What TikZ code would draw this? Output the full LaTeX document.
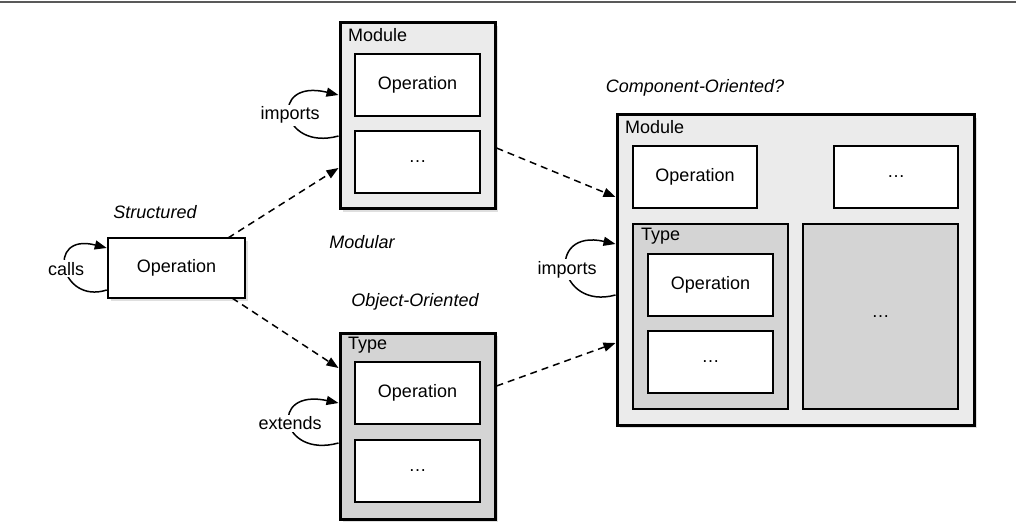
\documentclass[tikz,border=0pt]{standalone}
\usepackage{fontspec}
\setmainfont{Liberation Sans}
\usetikzlibrary{arrows.meta,shadows}
\begin{document}
\begin{tikzpicture}[x=1pt,y=-1pt,font=\fontsize{18}{20}\selectfont,
  boxouter/.style={draw,line width=3pt,fill=#1,drop shadow={shadow xshift=3pt,shadow yshift=-3pt,opacity=0.25}},
  boxinner/.style={draw,line width=1.8pt,fill=#1},
  lbl/.style={anchor=north west,inner sep=0pt},
  ttl/.style={font=\fontsize{18}{20}\selectfont\itshape},
  selfarrow/.style={line width=1.5pt,-{Triangle[length=12pt,width=9pt]}},
  dasharrow/.style={line width=1.5pt,dash pattern=on 7pt off 5pt,-{Triangle[length=12pt,width=9pt]}}]
\useasboundingbox (0,0) rectangle (1016,526);
\draw[gray!70!black,line width=1.5pt] (0,2) -- (1016,2);
% Structured
\node[boxouter=white,minimum width=137pt,minimum height=60pt,line width=2.5pt] (op) at (176.5,268) {Operation};
\node[ttl] (s) at (155,212) {Structured};
% Module
\node[boxouter=black!8,minimum width=155pt,minimum height=186pt,inner sep=0pt] (mod) at (417.5,116) {};
\node[lbl] (ml) at (348,28) {Module};
\node[boxinner=white,minimum width=125pt,minimum height=62pt] (mop) at (417.5,85) {Operation};
\node[boxinner=white,minimum width=125pt,minimum height=62pt] (mdots) at (417.5,162) {\dots};
\node[ttl] (mc) at (362,242) {Modular};
% Type
\node[boxouter=black!17,minimum width=155pt,minimum height=186pt,inner sep=0pt] (typ) at (417.5,426) {};
\node[lbl] (tl) at (348,337) {Type};
\node[boxinner=white,minimum width=125pt,minimum height=62pt] (top) at (417.5,393) {Operation};
\node[boxinner=white,minimum width=125pt,minimum height=62pt] (tdots) at (417.5,471) {\dots};
\node[ttl] (oc) at (415,302) {Object-Oriented};
% Component
\node[boxouter=black!8,minimum width=357pt,minimum height=310pt,inner sep=0pt] (cm) at (795.5,270) {};
\node[ttl] (cc) at (695,88) {Component-Oriented?};
\node[lbl] (cml) at (625,120) {Module};
\node[boxinner=white,minimum width=124pt,minimum height=62pt] (cop) at (695,177) {Operation};
\node[boxinner=white,minimum width=124pt,minimum height=62pt] (cdots) at (896,177) {\dots};
\node[boxinner=black!17,minimum width=155pt,minimum height=185pt] (ct) at (710.5,316.5) {};
\node[lbl] (ctl) at (641,228) {Type};
\node[boxinner=white,minimum width=125pt,minimum height=62pt] (ctop) at (710.5,285) {Operation};
\node[boxinner=white,minimum width=125pt,minimum height=62pt] (ctdots) at (710.5,362) {\dots};
\node[boxinner=black!17,minimum width=155pt,minimum height=185pt] (cg) at (880.5,316.5) {\dots};
% self arrows
\draw[selfarrow] (op.west|-0,290) .. controls (60,305) and (45,232) .. node[fill=white,inner sep=2pt]{calls} (op.west|-0,248);
\draw[selfarrow] (mod.west|-0,136) .. controls (280,152) and (268,78) .. node[fill=white,inner sep=2pt]{imports} (mod.west|-0,95);
\draw[selfarrow] (typ.west|-0,443) .. controls (280,459) and (268,388) .. node[fill=white,inner sep=2pt]{extends} (typ.west|-0,403);
\draw[selfarrow] (cm.west|-0,295) .. controls (557,311) and (545,228) .. node[fill=white,inner sep=2pt]{imports} (cm.west|-0,244);
% dashed
\draw[dasharrow] (228,238) -- (mod.west|-0,168);
\draw[dasharrow] (232,298) -- (typ.west|-0,368);
\draw[dasharrow] (mod.east|-0,148) -- (cm.west|-0,197);
\draw[dasharrow] (typ.east|-0,386) -- (cm.west|-0,343);
\end{tikzpicture}
\end{document}
